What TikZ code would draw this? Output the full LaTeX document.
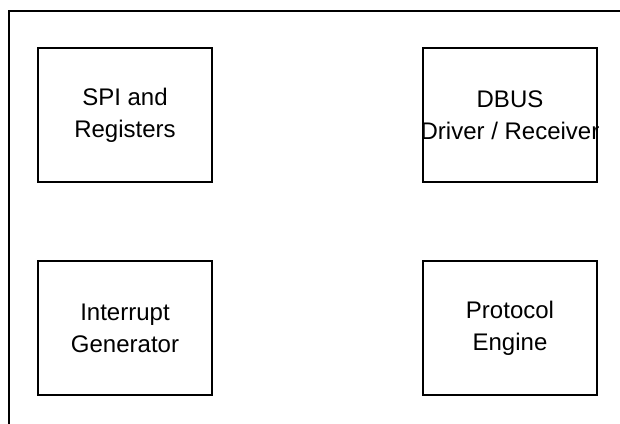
\documentclass[tikz,border=0pt]{standalone}
\usepackage{fontspec}
\setmainfont{Liberation Sans}
\usepackage{tikz}
\usetikzlibrary{positioning}

\begin{document}
\begin{tikzpicture}[x=1pt, y=-1pt, line width=2pt,
    block/.style={rectangle, draw, inner sep=0pt, minimum width=174pt, minimum height=134pt, align=center, font=\fontsize{24}{32}\selectfont}]
        \useasboundingbox (0, 0) rectangle (620, 423);
        \coordinate (framebottom) at (9, 424);
        \coordinate (framecorner) at (9, 11);
        \coordinate (frameright) at (621, 11);
        \draw (framebottom) -- (framecorner) -- (frameright);
        \node [block] (spi) at (125, 115) {SPI and\\Registers};
        \node [block] (dbus) at (510, 115) {DBUS\\\makebox[0pt][c]{Driver / Receiver}};
        \node [block] (irq) at (125, 328) {Interrupt\\Generator};
        \node [block] (engine) at (510, 328) {Protocol\\Engine};
    \end{tikzpicture}
\end{document}
